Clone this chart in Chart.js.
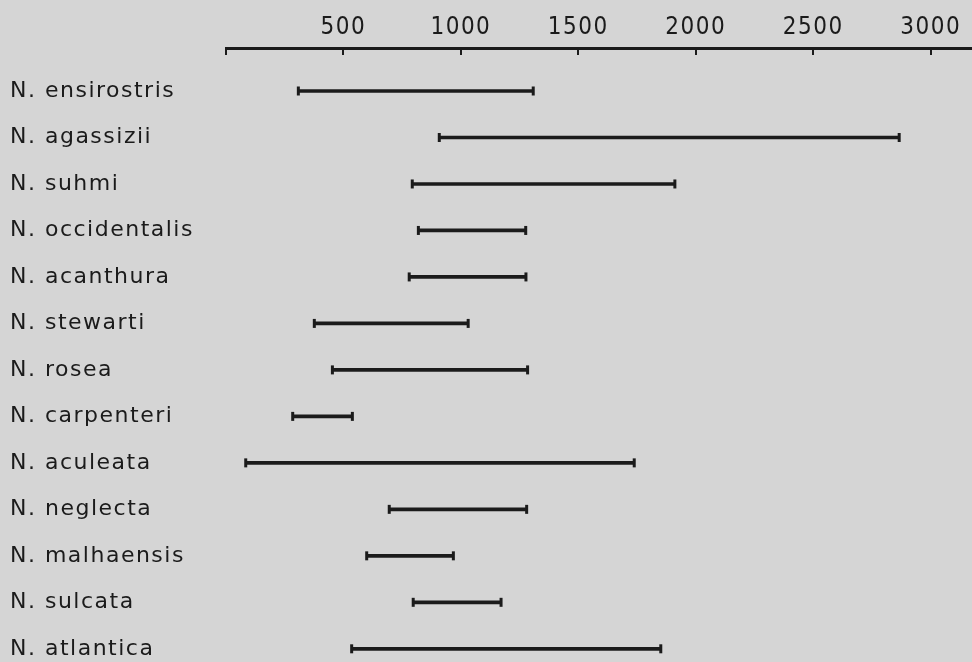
<!DOCTYPE html>
<html>
<head>
<meta charset="utf-8">
<script src="https://cdn.jsdelivr.net/npm/chart.js@4"></script>
<style>
  html, body { margin: 0; padding: 0; background: #d5d5d5; overflow: hidden; }
  #wrap { width: 972px; height: 662px; position: relative; }
</style>
</head>
<body>
<div id="wrap"><canvas id="c"></canvas></div>
<script>
// Depth range (m) of each Nephrops species
const species = [
  'N. ensirostris', 'N. agassizii', 'N. suhmi', 'N. occidentalis', 'N. acanthura',
  'N. stewarti', 'N. rosea', 'N. carpenteri', 'N. aculeata', 'N. neglecta',
  'N. malhaensis', 'N. sulcata', 'N. atlantica'
];
const minDepth = [308, 908, 793, 819, 780, 376, 453, 284, 84, 695, 599, 797, 535];
const maxDepth = [1308, 2866, 1911, 1276, 1277, 1031, 1284, 538, 1738, 1280, 968, 1171, 1851];
const depthTicks = [0, 500, 1000, 1500, 2000, 2500, 3000];

const ink = '#1b1b1b';

const ranges = species.map((s, i) => [minDepth[i], maxDepth[i]]);
const caps = species.flatMap((s, i) => [{ x: minDepth[i], y: s }, { x: maxDepth[i], y: s }]);

// Slightly spaced lettering, like the original typeset labels
const letterSpacingPlugin = {
  id: 'letterSpacing',
  beforeLayout(chart) { chart.ctx.letterSpacing = '1.5px'; },
  beforeDraw(chart) { chart.ctx.letterSpacing = '1.5px'; }
};

new Chart(document.getElementById('c'), {
  type: 'bar',
  plugins: [letterSpacingPlugin],
  data: {
    labels: species,
    datasets: [
      {
        type: 'bar',
        data: ranges,
        backgroundColor: ink,
        borderWidth: 0,
        barThickness: 3,
        clip: false
      },
      {
        type: 'line',
        data: caps,
        showLine: false,
        pointStyle: 'line',
        rotation: 90,
        pointRadius: 4.5,
        pointBorderWidth: 3,
        pointBorderColor: ink,
        pointBackgroundColor: ink,
        clip: false
      }
    ]
  },
  options: {
    indexAxis: 'y',
    responsive: true,
    maintainAspectRatio: false,
    animation: false,
    layout: { autoPadding: false, padding: { left: 10, top: 91, bottom: 11, right: 0 } },
    plugins: { legend: { display: false }, tooltip: { enabled: false } },
    scales: {
      x: {
        type: 'linear',
        position: { y: -0.923 },
        min: 0,
        max: 3176,
        afterBuildTicks: s => { s.ticks = depthTicks.map(v => ({ value: v })); },
        afterFit: s => { s.paddingLeft = 0; s.paddingRight = 0; },
        grid: { drawOnChartArea: false, drawTicks: true, tickLength: 5, color: ink, lineWidth: 2 },
        border: { display: true, color: ink, width: 3 },
        ticks: {
          padding: -40,
          color: ink,
          autoSkip: false,
          maxRotation: 0,
          font: { family: "'DejaVu Sans Condensed', 'DejaVu Sans'", size: 24 },
          callback: v => (v === 0 ? '' : v)
        }
      },
      y: {
        type: 'category',
        offset: false,
        grid: { display: false },
        border: { display: false },
        afterFit: s => { s.width = 216; },
        ticks: {
          crossAlign: 'far',
          padding: 0,
          color: ink,
          font: { family: "'DejaVu Sans'", size: 22 }
        }
      }
    }
  }
});
</script>
</body>
</html>
